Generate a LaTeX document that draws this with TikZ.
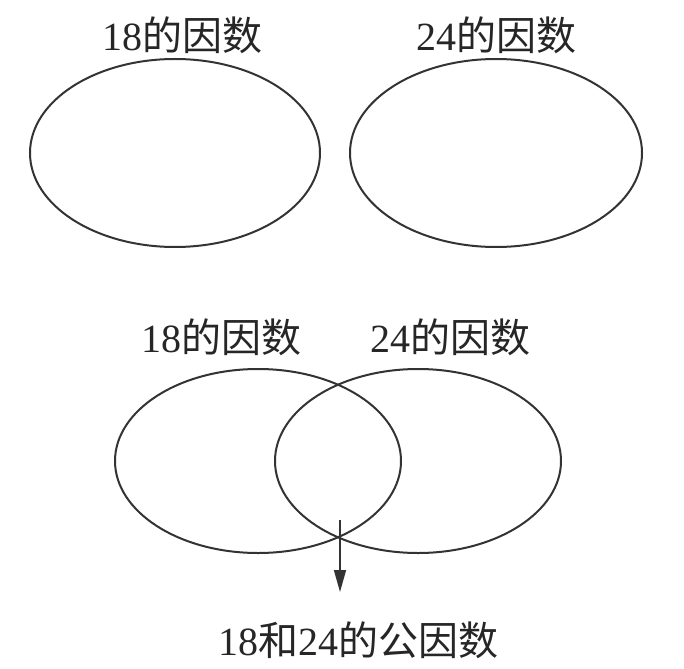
\documentclass[tikz,border=0pt]{standalone}
\usepackage{fontspec}
\setmainfont{Liberation Serif}
\newfontfamily\cjk{Noto Sans CJK SC}
\usetikzlibrary{arrows.meta}
\begin{document}
\begin{tikzpicture}[x=1pt,y=-1pt,
  set/.style={draw=black!80,line width=2pt},
  lbl/.style={font=\fontsize{40pt}{46pt}\selectfont,inner sep=0pt,text=black!85}]
\useasboundingbox (0,0) rectangle (684,668);
% top
\draw[set] (175,153) ellipse [x radius=145, y radius=94];
\draw[set] (496,153) ellipse [x radius=146, y radius=94];
\node[lbl] (t1) at (182,35) {18{\cjk 的因数}};
\node[lbl] (t2) at (496,35) {24{\cjk 的因数}};
% bottom
\draw[set] (258,461) ellipse [x radius=143, y radius=92];
\draw[set] (418,461) ellipse [x radius=143, y radius=92];
\node[lbl] (b1) at (221,337) {18{\cjk 的因数}};
\node[lbl] (b2) at (450,337) {24{\cjk 的因数}};
\node[lbl] (c) at (358,640) {18{\cjk 和}24{\cjk 的公因数}};
\coordinate (s) at (340,520);
\coordinate (e) at (340,592);
\draw[line width=1.6pt,black!80,-{Triangle[length=22pt,width=12pt]}] (s) -- (e);
\end{tikzpicture}
\end{document}
